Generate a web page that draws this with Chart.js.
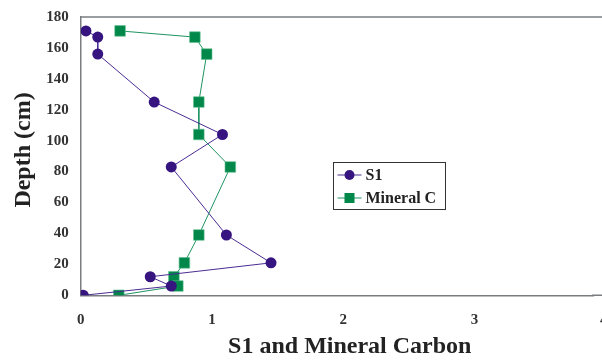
<!DOCTYPE html>
<html>
<head>
<meta charset="utf-8">
<script src="https://cdn.jsdelivr.net/npm/chart.js@4.4.1/dist/chart.umd.min.js"></script>
<style>
  html, body { margin: 0; padding: 0; background: #fff; }
  #wrap { width: 602px; height: 361px; }
</style>
</head>
<body>
<div id="wrap"><canvas id="ctx"></canvas></div>
<script>
// depth of each sample (cm)
const depths = [171, 167, 156, 125, 104, 83, 39, 21, 12, 6, 0];
// S1 values
const s1 = [0.04, 0.13, 0.13, 0.56, 1.08, 0.69, 1.11, 1.45, 0.53, 0.69, 0.02];
// Mineral carbon values
const mineralC = [0.30, 0.87, 0.96, 0.90, 0.90, 1.14, 0.90, 0.79, 0.71, 0.74, 0.29];
// the last x label sits half off the right edge
const xEdgeTick = 4;

const purple = "#371580";
const green = "#00874a";
const serif = "'Liberation Serif', 'DejaVu Serif', serif";
const tickFont = { family: serif, weight: "bold", size: 15 };

const toPoints = (xs) => xs.map((x, i) => ({ x: x, y: depths[i] }));

// top border, the clipped "4" label, axis titles and the boxed legend
const frameAndLegend = {
  id: "frameAndLegend",
  afterDraw(chart) {
    const c = chart.ctx;
    const a = chart.chartArea;
    const xs = chart.scales.x;
    const ys = chart.scales.y;
    c.save();
    c.strokeStyle = "#7a7d80";
    c.lineWidth = 1.5;
    c.beginPath();
    c.moveTo(a.left, a.top);
    c.lineTo(chart.width, a.top);
    c.moveTo(a.right - 2, a.bottom);
    c.lineTo(chart.width, a.bottom);
    c.stroke();

    c.fillStyle = "#333";
    c.font = "bold 15px " + serif;
    c.textAlign = "center";
    c.textBaseline = "middle";
    c.fillText(String(xEdgeTick), xs.getPixelForValue(xEdgeTick) - 2, a.bottom + 25);

    // axis titles
    c.fillStyle = "#222";
    c.font = "bold 24px " + serif;
    c.fillText("S1 and Mineral Carbon", xs.getPixelForValue(2.05), chart.height - 14);
    c.save();
    c.translate(24, ys.getPixelForValue(94));
    c.rotate(-Math.PI / 2);
    c.fillText("Depth (cm)", 0, 0);
    c.restore();

    // legend box
    const bx = 333.5, by = 162.5, bw = 112, bh = 47;
    c.strokeStyle = "#333";
    c.lineWidth = 1;
    c.strokeRect(bx, by, bw, bh);
    c.font = "bold 16px " + serif;
    c.textAlign = "left";
    c.textBaseline = "middle";
    chart.data.datasets.forEach((ds, i) => {
      const y = by + 12.5 + i * 23;
      c.strokeStyle = ds.borderColor;
      c.lineWidth = 1;
      c.beginPath();
      c.moveTo(bx + 4, y);
      c.lineTo(bx + 28, y);
      c.stroke();
      c.fillStyle = ds.pointBackgroundColor;
      if (ds.pointStyle === "rect") {
        c.fillRect(bx + 11, y - 5, 10, 10);
      } else {
        c.beginPath();
        c.arc(bx + 16, y, 5, 0, Math.PI * 2);
        c.fill();
      }
      c.fillStyle = "#222";
      c.fillText(ds.label, bx + 32, y + 1);
    });
    c.restore();
  },
};

new Chart(document.getElementById("ctx"), {
  type: "line",
  data: {
    datasets: [
      {
        label: "S1",
        data: toPoints(s1),
        borderColor: "#4b2c93",
        borderWidth: 1,
        pointStyle: "circle",
        pointRadius: 5.5,
        pointBackgroundColor: purple,
        pointBorderColor: purple,
        pointBorderWidth: 0,
      },
      {
        label: "Mineral C",
        data: toPoints(mineralC),
        borderColor: "#1e9462",
        borderWidth: 1,
        pointStyle: "rect",
        pointRadius: 7.5,
        pointBackgroundColor: green,
        pointBorderColor: "#5fbf8f",
        pointBorderWidth: 0.6,
      },
    ],
  },
  options: {
    responsive: true,
    maintainAspectRatio: false,
    animation: false,
    layout: { padding: { top: 15, right: 0, left: 9, bottom: 0 } },
    plugins: {
      legend: { display: false },
      tooltip: { enabled: false },
    },
    scales: {
      x: {
        type: "linear",
        min: 0,
        max: 3.91,
        afterFit: (scale) => {
          scale.height = 65.7;
        },
        grid: { display: false, drawTicks: true, tickLength: 4, tickColor: "#555" },
        border: { display: true, color: "#7a7d80", width: 1.5 },
        ticks: {
          stepSize: 1,
          includeBounds: false,
          padding: 12,
          color: "#333",
          font: tickFont,
          maxRotation: 0,
        },
        title: { display: false },
      },
      y: {
        type: "linear",
        min: 0,
        max: 180,
        afterFit: (scale) => {
          scale.width = 71.7;
        },
        ticks: {
          stepSize: 20,
          padding: 8,
          color: "#333",
          font: tickFont,
        },
        grid: { display: false, drawTicks: true, tickLength: 4, tickColor: "#555" },
        border: { display: true, color: "#7a7d80", width: 1.5 },
        title: { display: false },
      },
    },
  },
  plugins: [frameAndLegend],
});
</script>
</body>
</html>
